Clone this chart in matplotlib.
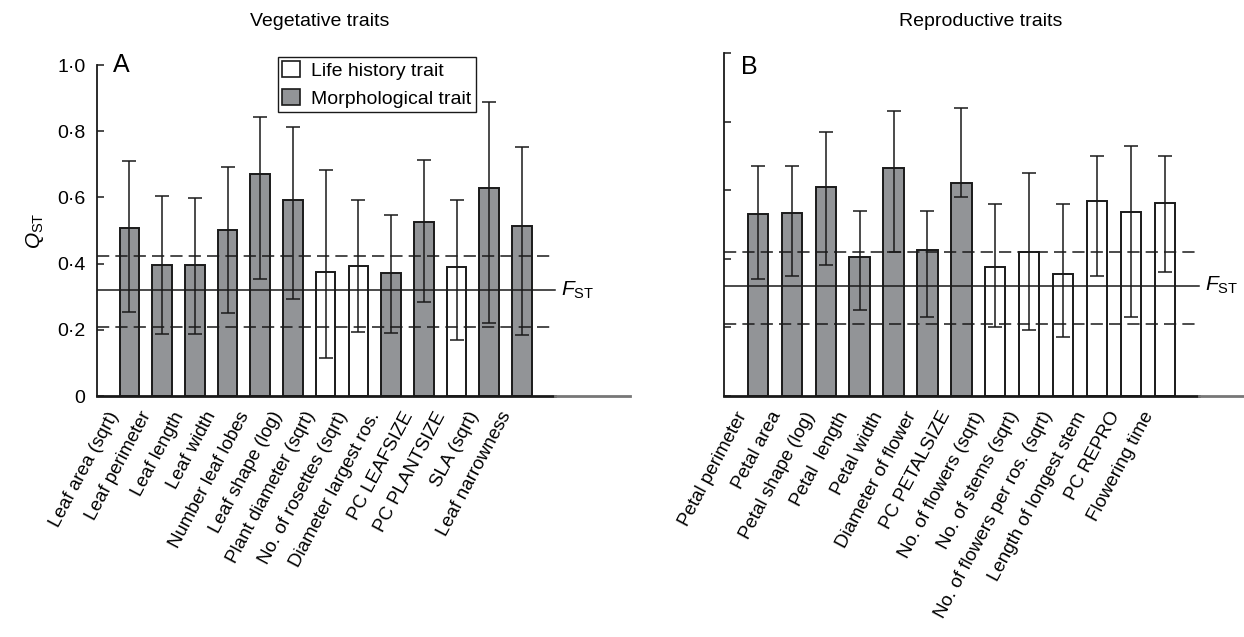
import matplotlib
matplotlib.use("Agg")
import matplotlib.pyplot as plt
from matplotlib.patches import Patch
from matplotlib.transforms import ScaledTranslation
import numpy as np

plt.rcParams['font.family'] = ['Liberation Sans', 'DejaVu Sans']
plt.rcParams['mathtext.fontset'] = 'custom'
plt.rcParams['mathtext.rm'] = 'Liberation Sans'
plt.rcParams['mathtext.it'] = 'Liberation Sans:italic'

# vegetative traits (panel A)
veg_traits = ['Leaf area (sqrt)', 'Leaf perimeter', 'Leaf length', 'Leaf width',
              'Number leaf lobes', 'Leaf shape (log)', 'Plant diameter (sqrt)',
              'No. of rosettes (sqrt)', 'Diameter largest ros.', 'PC LEAFSIZE',
              'PC PLANTSIZE', 'SLA (sqrt)', 'Leaf narrowness']
veg_qst = [0.508, 0.396, 0.396, 0.502, 0.672, 0.592, 0.376, 0.393, 0.372, 0.527, 0.389, 0.630, 0.514]
veg_upper = [0.711, 0.605, 0.598, 0.692, 0.843, 0.812, 0.683, 0.592, 0.547, 0.713, 0.592, 0.888, 0.751]
veg_lower = [0.255, 0.187, 0.187, 0.250, 0.354, 0.294, 0.116, 0.194, 0.191, 0.283, 0.169, 0.220, 0.185]
veg_life = [0, 0, 0, 0, 0, 0, 1, 1, 0, 0, 1, 0, 0]
veg_fst, veg_fst_lo, veg_fst_hi = 0.320, 0.208, 0.424

# reproductive traits (panel B)
rep_traits = ['Petal perimeter', 'Petal area', 'Petal shape (log)', 'Petal  length',
              'Petal width', 'Diameter of flower', 'PC PETALSIZE', 'No. of flowers (sqrt)',
              'No. of stems (sqrt)', 'No. of flowers per ros. (sqrt)',
              'Length of longest stem', 'PC REPRO', 'Flowering time']
rep_qst = [0.530, 0.535, 0.611, 0.406, 0.666, 0.427, 0.622, 0.376, 0.420, 0.356, 0.569, 0.537, 0.562]
rep_upper = [0.671, 0.671, 0.771, 0.541, 0.831, 0.541, 0.841, 0.561, 0.651, 0.561, 0.701, 0.730, 0.701]
rep_lower = [0.341, 0.351, 0.381, 0.251, 0.421, 0.231, 0.582, 0.202, 0.192, 0.172, 0.351, 0.231, 0.362]
rep_life = [0, 0, 0, 0, 0, 0, 0, 1, 1, 1, 1, 1, 1]
rep_fst, rep_fst_lo, rep_fst_hi = 0.322, 0.211, 0.421

GREY = '#929497'
INK = '#1a1a1a'


def panel(ax, traits, qst, lower, upper, life, fst, lo, hi, xmax, letter, letter_y, ticklabels):
    n = len(traits)
    x = np.arange(1, n + 1)
    qst = np.array(qst)
    colors = ['white' if l else GREY for l in life]
    ax.bar(x, qst, width=0.6, color=colors, edgecolor=INK, linewidth=1.4, zorder=2)
    yerr = [qst - np.array(lower), np.array(upper) - qst]
    ax.errorbar(x, qst, yerr=yerr, fmt='none', ecolor=INK, elinewidth=1.1,
                capsize=5, capthick=1.1, zorder=4)
    end = n + 1
    ax.plot([0, end], [fst, fst], color=INK, lw=1.1, zorder=3)
    for v in (lo, hi):
        ax.plot([0, end], [v, v], color=INK, lw=1.1, ls=(0, (8, 4)), zorder=3)
    ax.text(end + 0.2, fst, r'$F_{\mathrm{ST}}$', fontsize=15, va='center', ha='left')

    # bottom axis: dark under the bars, lighter beyond
    ax.plot([0, end], [0, 0], color=INK, lw=2, clip_on=False, zorder=5)
    ax.plot([end, xmax], [0, 0], color='#777777', lw=2, clip_on=False, zorder=5)

    ax.set_xlim(0, xmax)
    ax.set_ylim(0, 1.0)
    for s in ('top', 'right', 'bottom'):
        ax.spines[s].set_visible(False)
    ax.spines['left'].set_linewidth(1.3)
    ax.spines['left'].set_color(INK)
    ax.set_yticks(np.arange(0, 1.01, 0.2))
    ax.tick_params(axis='y', direction='in', length=5, width=1.1, color=INK,
                   labelsize=14, pad=8)
    if ticklabels:
        ax.set_yticklabels(['0', '0·2', '0·4', '0·6', '0·8', '1·0'])
    else:
        ax.set_yticklabels([])
    ax.set_xticks(x)
    ax.set_xticklabels(traits, rotation=62, ha='right', va='center',
                       rotation_mode='anchor', fontsize=13.5)
    ax.tick_params(axis='x', length=0, pad=12)
    shift = ScaledTranslation(-15 / 100, 0, ax.figure.dpi_scale_trans)
    for lab in ax.get_xticklabels():
        lab.set_transform(lab.get_transform() + shift)
    ax.text(0.5, letter_y, letter, fontsize=18, va='top', ha='left',
            transform=ax.get_xaxis_transform())


fig = plt.figure(figsize=(12.44, 6.37), dpi=100)
ax1 = fig.add_axes([0.0777, 0.3783, 0.4287, 0.5196])
ax2 = fig.add_axes([0.582, 0.3783, 0.417, 0.538])

panel(ax1, veg_traits, veg_qst, veg_lower, veg_upper, veg_life,
      veg_fst, veg_fst_lo, veg_fst_hi, 16.3, 'A', 1.035, True)
panel(ax2, rep_traits, rep_qst, rep_lower, rep_upper, rep_life,
      rep_fst, rep_fst_lo, rep_fst_hi, 15.3, 'B', 0.995, False)

ax1.set_ylabel(r'$Q_{\mathrm{ST}}$', fontsize=15, labelpad=8)

handles = [Patch(facecolor='white', edgecolor=INK, linewidth=1.2),
           Patch(facecolor=GREY, edgecolor=INK, linewidth=1.2)]
fig.legend(handles, ['Life history trait', 'Morphological trait'],
           loc='upper left', bbox_to_anchor=(278 / 1244, 1 - 57 / 637),
           fontsize=14, frameon=True, fancybox=False, edgecolor=INK,
           framealpha=1, borderaxespad=0, handlelength=0.9, handleheight=0.9,
           handletextpad=0.6, borderpad=0.22, labelspacing=0.45)

fig.text(320 / 1244, 1 - 22 / 637, 'Vegetative traits', fontsize=14,
         ha='center', va='center')
fig.text(981 / 1244, 1 - 22 / 637, 'Reproductive traits', fontsize=14,
         ha='center', va='center')

fig.savefig('out.png', dpi=100)
